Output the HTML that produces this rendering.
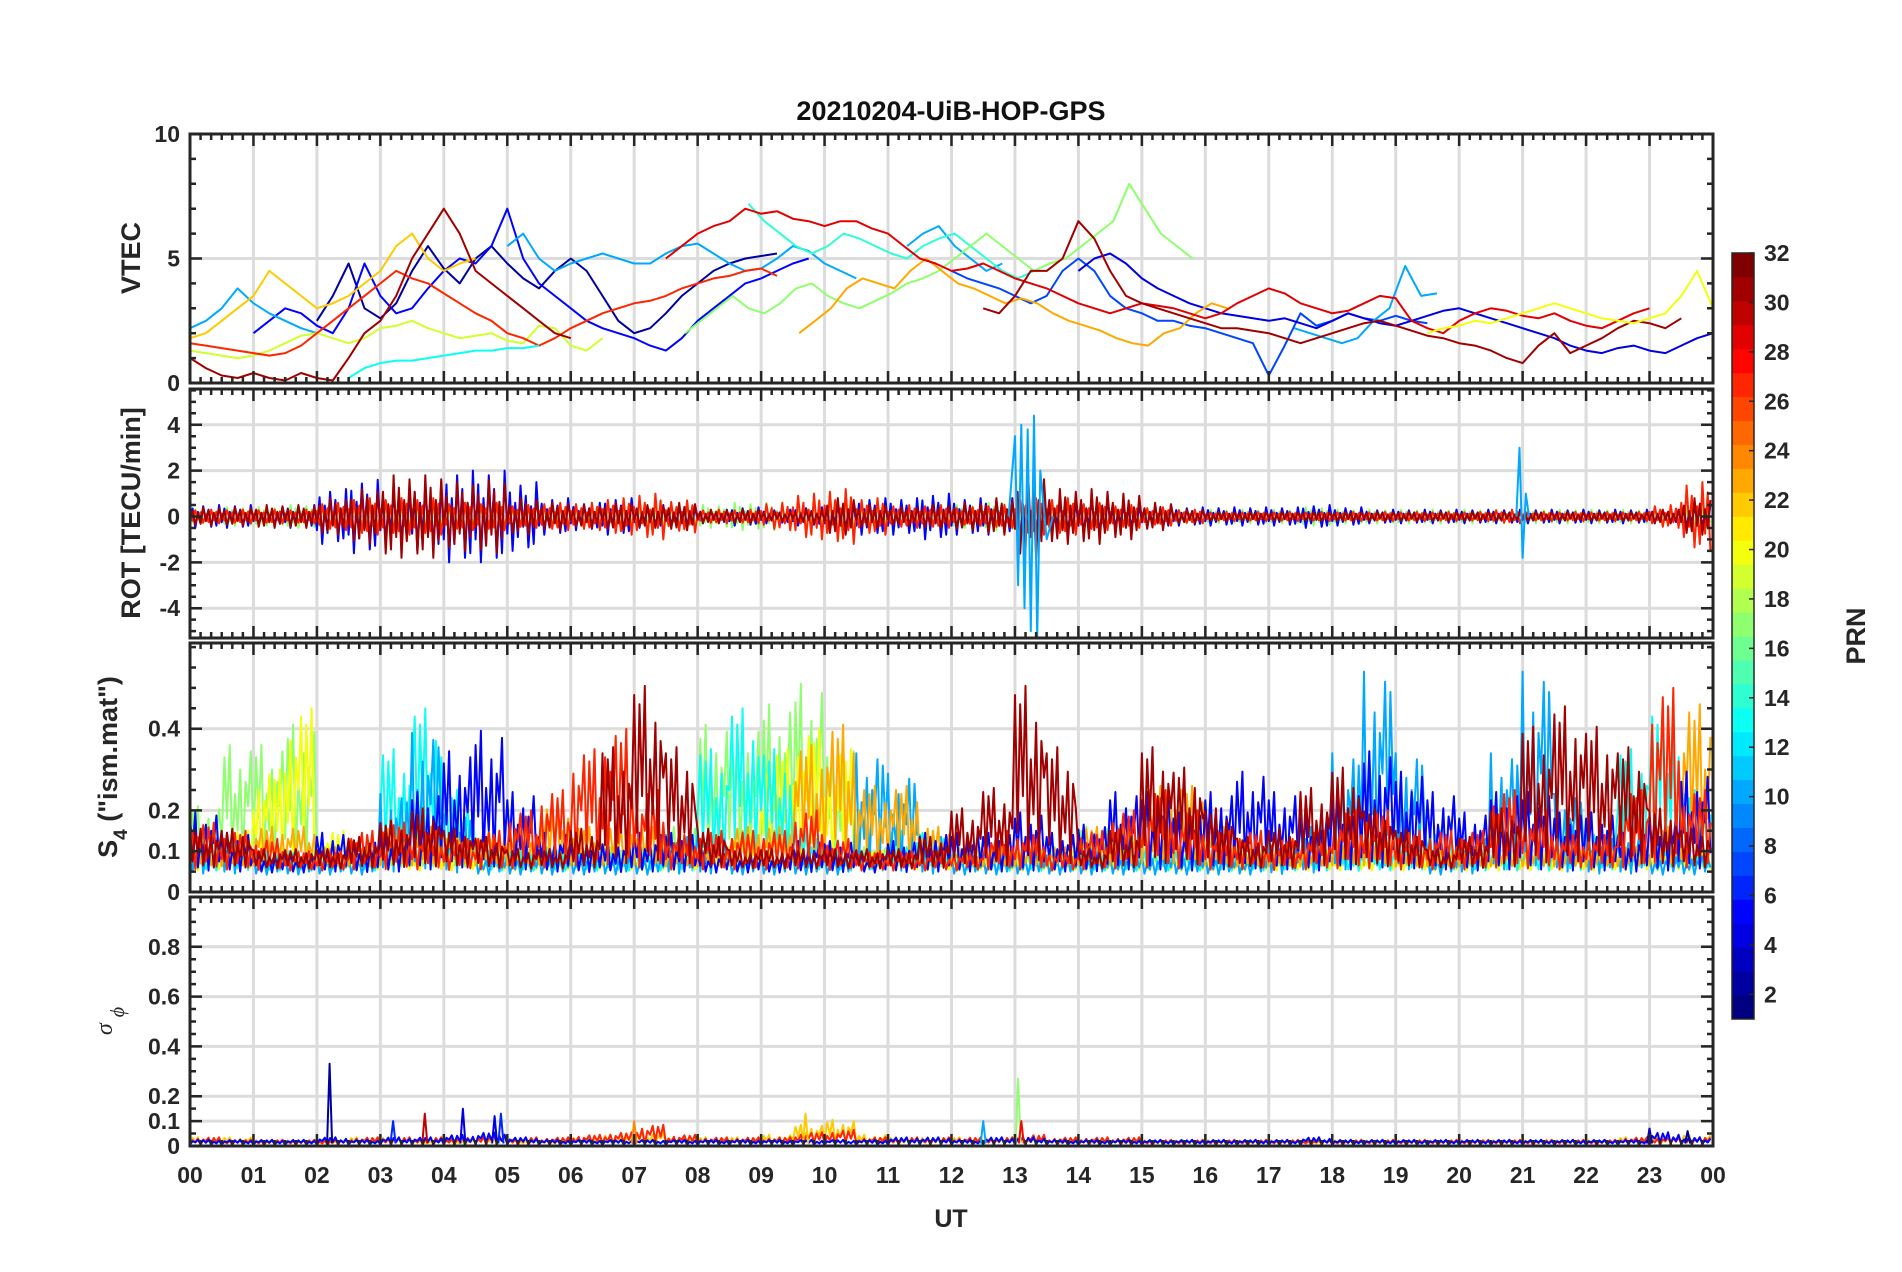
<!DOCTYPE html>
<html><head><meta charset="utf-8"><style>
html,body{margin:0;padding:0;background:#fff;}
svg{display:block;font-family:"Liberation Sans",Arial,sans-serif;}
</style></head><body>
<div style="position:relative;width:1902px;height:1272px;">
<svg id="fig" width="1902" height="1272" viewBox="0 0 1902 1272" xmlns="http://www.w3.org/2000/svg" style="position:absolute;left:0;top:0">
<rect width="1902" height="1272" fill="#fff"/>
<text x="951" y="120" text-anchor="middle" font-size="27" font-weight="bold" fill="#111">20210204-UiB-HOP-GPS</text>
<g id="layer"></g>
<text x="951" y="1227" text-anchor="middle" font-size="25" font-weight="bold" fill="#262626">UT</text>
<text transform="translate(140,258) rotate(-90)" text-anchor="middle" font-size="27" font-weight="bold" fill="#262626">VTEC</text>
<text transform="translate(140,513) rotate(-90)" text-anchor="middle" font-size="27" font-weight="bold" fill="#262626">ROT [TECU/min]</text>
<text transform="translate(117,767) rotate(-90)" text-anchor="middle" font-size="27" font-weight="bold" fill="#262626">S<tspan font-size="19" dy="10">4</tspan><tspan dy="-10"> ("ism.mat")</tspan></text>
<text transform="translate(112,1021) rotate(-90)" text-anchor="middle" font-size="24" font-style="italic" fill="#262626" font-family="Liberation Serif, serif">σ<tspan font-size="20" dy="12" dx="6">ϕ</tspan></text>
<text transform="translate(1865,636) rotate(-90)" text-anchor="middle" font-size="27" font-weight="bold" fill="#262626">PRN</text>
</svg>
</div>
<script>
// ===== DATA =====
const HOUR_LABELS = ["00","01","02","03","04","05","06","07","08","09","10","11","12","13","14","15","16","17","18","19","20","21","22","23","00"];
const CBAR_TICKS = [2,4,6,8,10,12,14,16,18,20,22,24,26,28,30,32];
// VTEC series: prn, start hour, values every 0.25 h
const VTEC_PRN = [2,5,7,4,10,10,10,10,14,17,19,22,23,27,29,31,31,13,20];
const VTEC_START = [2.0,1.0,12.0,14.0,0,5.0,11.3,17.4,8.8,7.8,0,0,9.6,0,7.5,0,12.5,2.5,19.5];
const VTEC_VALUES = [
 [2.5,3.5,4.8,3,2.6,3.2,4.5,5.5,4.6,4,5,5.5,4.8,4.2,3.8,4.5,5,4.5,3.5,2.5,2,2.2,2.8,3.5,4,4.5,4.8,5,5.1,5.2],
 [2,2.5,3,2.8,2.3,2,3,4.8,3.5,2.8,3,3.8,4.5,5,4.8,5.5,7,5,4,3.5,3,2.5,2.2,2,1.8,1.5,1.3,1.8,2.5,3,3.5,4,4.2,4.5,4.8,5],
 [4.5,4.2,4,3.8,3.5,3.2,3.5,4.5,5,4.5,3.5,3,2.8,2.5,2.5,2.3,2.2,2,1.8,1.6,0.3,1.5,2.8,2.3,2.5,2.8,2.6,2.5,2.7,2.5,2.4],
 [4.5,5,5.2,4.8,4.2,3.8,3.5,3.2,3,2.8,2.7,2.6,2.5,2.6,2.4,2.2,2.5,2.8,2.6,2.4,2.3,2.5,2.7,2.9,3,2.8,2.6,2.4,2.2,2.0,1.8,1.5,1.3,1.2,1.4,1.5,1.3,1.2,1.5,1.8,2.0,2.2,2.5,2.3],
 [2.2,2.5,3,3.8,3.2,2.8,2.5,2.2,2],
 [5.5,6,5,4.5,4.8,5,5.2,5,4.8,4.8,5.2,5.5,5.6,5.2,4.8,4.5,4.6,5,5.5,5.3,4.8,4.5,4.2],
 [5.5,6,6.3,5.5,5,4.5,4.8],
 [2.2,2,1.8,1.6,1.8,2.5,3,4.7,3.5,3.6],
 [7.2,6.5,6,5.5,5.2,5.5,6,5.8,5.5,5.2,5,5.5,5.8,6,5.5,5,4.5,4.2,4.5,4.8],
 [2,2.5,3,3.5,3,2.8,3.2,3.8,4,3.5,3.2,3,3.3,3.6,4,4.2,4.5,5,5.5,6,5.5,5,4.5,4.8,5,5.5,6,6.5,8,7,6,5.5,5],
 [1.3,1.2,1.1,1,1.1,1.3,1.6,1.9,2,1.8,1.6,1.8,2.2,2.3,2.5,2.2,2,1.8,1.9,2,1.7,1.6,2.3,2.2,1.5,1.3,1.8],
 [1.8,2,2.5,3,3.5,4.5,4,3.5,3,3.2,3.5,4,4.5,5.5,6,5,4.5,4.8,5],
 [2,2.5,3,3.8,4.2,4,3.8,4.5,5,4.5,4,3.8,3.5,3.2,3.4,3.2,2.8,2.5,2.3,2.1,1.8,1.6,1.5,2,2.2,2.8,3.2,3],
 [1.6,1.5,1.4,1.3,1.2,1.1,1.2,1.5,2,2.5,3,3.5,4,4.5,4.2,4,3.6,3.2,2.8,2.5,2,1.8,1.5,1.8,2.2,2.5,2.8,3,3.2,3.3,3.5,3.8,4,4.2,4.3,4.5,4.6,4.3],
 [5,5.5,6,6.3,6.5,7,6.8,6.9,6.6,6.5,6.3,6.5,6.5,6.2,6,5.5,5,4.8,4.5,4.6,4.8,4.5,4.2,4,3.8,3.5,3.2,3,2.8,3,3.2,3.1,3,2.8,2.6,2.8,3.2,3.5,3.8,3.6,3.2,3,2.8,2.9,3.2,3.5,3.4,2.5,2.2,2,2.5,2.8,3,2.9,2.7,2.6,2.8,2.5,2.3,2.2,2.5,2.8,3],
 [1,0.6,0.3,0.2,0.4,0.2,0.1,0.4,0.2,0.1,1,2,2.5,3.5,5,6,7,6,4.5,4,3.5,3,2.5,2,1.8],
 [3,2.8,3.5,4.5,4.5,5,6.5,5.8,4.5,3.5,3.2,3,2.8,2.6,2.4,2.2,2.2,2.1,2,1.8,1.6,1.8,2,2.2,2.4,2.5,2.3,2.1,1.9,1.8,1.6,1.5,1.3,1,0.8,1.5,2,1.2,1.5,1.8,2.2,2.5,2.4,2.2,2.6],
 [0.2,0.6,0.8,0.9,0.9,1,1.1,1.2,1.3,1.3,1.4,1.4,1.5],
 [2,2.2,2.3,2.5,2.4,2.6,2.8,3,3.2,3,2.8,2.6,2.5,2.4,2.6,2.8,3.5,4.5,3]
];
// ROT amplitude per 0.5 h
const ROT_PRN = [17,5,27,31];
const ROT_AMP = [
 [0.3,0.4,0.4,0.5,0.5,0.4,0.4,0.3,0.3,0.4,0.4,0.3,0.3,0.3,0.3,0.5,0.5,0.6,0.6,0.6,0.7,0.5,0.4,0.4,0.5,0.6,0.6,0.5,0.4,0.3,0.3,0.3,0.3,0.3,0.3,0.4,0.3,0.3,0.3,0.3,0.3,0.3,0.3,0.3,0.3,0.3,0.3,0.3],
 [0.5,0.5,0.4,0.5,1.2,1.6,1.2,1.5,2.0,2.0,1.5,0.8,0.6,0.8,0.5,0.4,0.3,0.4,0.3,0.4,0.6,0.8,0.8,1.0,0.8,0.8,1.0,0.7,0.8,0.5,0.5,0.4,0.4,0.4,0.4,0.5,0.4,0.3,0.3,0.3,0.3,0.3,0.3,0.3,0.3,0.3,0.3,0.5],
 [0.3,0.3,0.3,0.3,0.6,0.8,0.8,0.8,0.6,0.6,0.5,0.6,0.6,0.8,1.0,0.7,0.3,0.3,0.6,1.0,1.2,0.8,0.5,0.5,0.4,0.5,0.8,0.8,0.6,0.5,0.4,0.3,0.2,0.2,0.2,0.2,0.2,0.2,0.2,0.2,0.2,0.3,0.2,0.2,0.2,0.2,0.5,1.5],
 [0.4,0.4,0.5,0.5,0.8,1.2,1.8,1.8,1.5,1.6,0.8,0.6,0.5,0.6,0.5,0.6,0.3,0.3,0.2,0.3,0.8,0.5,0.4,0.5,0.6,0.8,1.8,1.2,1.2,1.0,0.6,0.3,0.2,0.2,0.2,0.2,0.2,0.2,0.2,0.2,0.2,0.2,0.2,0.2,0.2,0.2,0.3,0.8]
];
const ROT_SPIKE_PRN = [10,10];
const ROT_SPIKE_T = [[12.9,13.0,13.05,13.1,13.15,13.2,13.25,13.3,13.35,13.4,13.5,13.6],[20.9,20.95,21.0,21.05,21.1]];
const ROT_SPIKE_V = [[0,3.5,-3,4,-4,3.8,-5,4.4,-5.3,2,-1,0],[0,3,-1.8,1,0]];
// S4: base level and peak amplitude per 0.5 h
const S4_PRN = [17,20,13,10,23,5,27,31];
const S4_BASE = [0.06,0.05,0.05,0.04,0.06,0.045,0.05,0.055];
const S4_PEAK = [
 [0.15,0.3,0.3,0.35,0.05,0.05,0.05,0.05,0.05,0.05,0.05,0.05,0.05,0.05,0.05,0.1,0.35,0.35,0.4,0.45,0.3,0.05,0.05,0.05,0.05,0.05,0.05,0.05,0.1,0.1,0.05,0.05,0.05,0.05,0.05,0.05,0.05,0.08,0.05,0.05,0.05,0.05,0.05,0.05,0.05,0.05,0.05,0.05],
 [0.05,0.1,0.25,0.4,0.1,0.05,0.05,0.05,0.05,0.05,0.05,0.05,0.05,0.05,0.05,0.05,0.05,0.1,0.3,0.35,0.3,0.05,0.05,0.05,0.05,0.05,0.05,0.05,0.05,0.05,0.05,0.05,0.05,0.05,0.05,0.05,0.05,0.05,0.05,0.05,0.05,0.05,0.05,0.05,0.05,0.05,0.05,0.05],
 [0.05,0.08,0.05,0.05,0.05,0.05,0.3,0.4,0.2,0.05,0.05,0.05,0.05,0.05,0.05,0.05,0.3,0.4,0.3,0.1,0.05,0.05,0.1,0.1,0.05,0.05,0.05,0.05,0.05,0.05,0.05,0.05,0.05,0.05,0.05,0.05,0.05,0.05,0.1,0.1,0.05,0.05,0.05,0.08,0.1,0.3,0.4,0.2],
 [0.1,0.1,0.05,0.05,0.05,0.05,0.2,0.35,0.15,0.05,0.05,0.05,0.05,0.05,0.05,0.1,0.1,0.05,0.05,0.05,0.05,0.3,0.25,0.1,0.05,0.05,0.05,0.05,0.05,0.05,0.05,0.05,0.05,0.05,0.08,0.15,0.3,0.5,0.3,0.05,0.1,0.3,0.5,0.2,0.1,0.1,0.05,0.05],
 [0.05,0.05,0.1,0.1,0.05,0.05,0.1,0.1,0.1,0.1,0.1,0.15,0.1,0.1,0.1,0.05,0.05,0.1,0.1,0.3,0.35,0.2,0.2,0.1,0.05,0.05,0.05,0.05,0.1,0.1,0.2,0.2,0.1,0.05,0.05,0.05,0.1,0.1,0.05,0.05,0.05,0.05,0.05,0.05,0.05,0.05,0.1,0.4],
 [0.15,0.1,0.05,0.05,0.1,0.08,0.1,0.2,0.3,0.35,0.2,0.1,0.08,0.08,0.1,0.1,0.05,0.05,0.05,0.08,0.08,0.05,0.08,0.1,0.1,0.1,0.15,0.1,0.12,0.2,0.2,0.15,0.2,0.25,0.2,0.15,0.2,0.3,0.25,0.2,0.15,0.2,0.2,0.15,0.15,0.1,0.15,0.25],
 [0.12,0.1,0.08,0.05,0.05,0.1,0.12,0.1,0.08,0.1,0.15,0.2,0.3,0.35,0.2,0.1,0.1,0.1,0.1,0.15,0.08,0.05,0.05,0.05,0.05,0.1,0.1,0.05,0.1,0.15,0.2,0.15,0.1,0.1,0.08,0.1,0.15,0.15,0.1,0.1,0.1,0.2,0.15,0.1,0.1,0.2,0.45,0.2],
 [0.1,0.1,0.05,0.05,0.05,0.08,0.12,0.15,0.1,0.08,0.05,0.05,0.1,0.3,0.45,0.3,0.1,0.05,0.05,0.05,0.05,0.05,0.05,0.08,0.15,0.2,0.45,0.3,0.05,0.1,0.3,0.25,0.15,0.08,0.1,0.2,0.25,0.15,0.1,0.05,0.08,0.15,0.35,0.4,0.35,0.3,0.15,0.1]
];
// sigma-phi baseline amplitude per 0.5 h and spikes
const SIG_PRN = [22,27,5];
const SIG_AMP = [
 [0.03,0.03,0.02,0.02,0.02,0.03,0.03,0.02,0.02,0.03,0.02,0.02,0.03,0.04,0.05,0.03,0.03,0.03,0.04,0.08,0.1,0.04,0.03,0.03,0.03,0.03,0.03,0.02,0.02,0.02,0.02,0.02,0.02,0.02,0.02,0.02,0.02,0.02,0.02,0.02,0.02,0.02,0.02,0.02,0.02,0.03,0.04,0.04],
 [0.03,0.02,0.02,0.02,0.02,0.03,0.03,0.03,0.03,0.04,0.03,0.03,0.04,0.05,0.08,0.04,0.03,0.03,0.03,0.05,0.06,0.03,0.03,0.03,0.03,0.03,0.04,0.03,0.03,0.03,0.02,0.02,0.02,0.02,0.02,0.02,0.02,0.02,0.02,0.02,0.02,0.02,0.02,0.02,0.02,0.03,0.03,0.03],
 [0.02,0.02,0.02,0.02,0.03,0.02,0.03,0.03,0.04,0.05,0.03,0.02,0.02,0.02,0.02,0.02,0.02,0.02,0.02,0.02,0.02,0.02,0.03,0.03,0.02,0.03,0.03,0.02,0.02,0.02,0.02,0.02,0.02,0.02,0.02,0.03,0.02,0.02,0.02,0.02,0.02,0.02,0.02,0.02,0.02,0.02,0.05,0.03]
];
const SIG_SPIKE_T = [2.2,3.2,3.7,4.3,4.8,4.9,7.0,9.7,12.5,13.05,13.1,23.0,23.6];
const SIG_SPIKE_V = [0.33,0.1,0.13,0.15,0.12,0.13,0.1,0.13,0.1,0.27,0.1,0.07,0.06];
const SIG_SPIKE_PRN = [2,6,30,4,4,6,24,22,10,17,28,3,2];

// ===== LAYOUT =====
const X0=190, X1=1713;
const PANELS=[
 {top:134,bot:383,min:0,max:10,major:[0,5,10],grid:[5],minor:1,labels:["0","5","10"]},
 {top:389,bot:638,min:-5.3,max:5.56,major:[-4,-2,0,2,4],grid:[-4,-2,0,2,4],minor:0.5,labels:["-4","-2","0","2","4"]},
 {top:643,bot:892,min:0,max:0.61,major:[0,0.1,0.2,0.4],grid:[0.1,0.2,0.4],minor:0.05,labels:["0","0.1","0.2","0.4"]},
 {top:897,bot:1146,min:0,max:1,major:[0,0.1,0.2,0.4,0.6,0.8],grid:[0.1,0.2,0.4,0.6,0.8],minor:0.05,labels:["0","0.1","0.2","0.4","0.6","0.8"]}
];
const NS="http://www.w3.org/2000/svg";
const layer=document.getElementById('layer');
function mk(tag,attrs,parent){const e=document.createElementNS(NS,tag);for(const k in attrs)e.setAttribute(k,attrs[k]);(parent||layer).appendChild(e);return e;}
function xs(h){return X0+(X1-X0)*h/24;}
function ys(p,v){return p.bot-(p.bot-p.top)*(v-p.min)/(p.max-p.min);}
function jet(prn){const t=(prn-1)/31;const c=x=>Math.round(255*Math.max(0,Math.min(1,x)));
 return `rgb(${c(1.5-Math.abs(4*t-3))},${c(1.5-Math.abs(4*t-2))},${c(1.5-Math.abs(4*t-1))})`;}
const ZIG=[0.3,-0.8,1,-0.5,0.7,-1,0.4,-0.6,0.9,-0.3,0.6,-0.9];
const ZIGP=[0.2,0.9,0.4,1,0.1,0.6,0.3,0.8,0.05,0.7,0.5,0.95];

const defs=mk('defs',{});
PANELS.forEach((p,i)=>{const c=mk('clipPath',{id:'clip'+i},defs);mk('rect',{x:X0,y:p.top,width:X1-X0,height:p.bot-p.top},c);});

PANELS.forEach((p,i)=>{
 const g=mk('g',{});
 
 
 for(let h=1;h<24;h++) mk('line',{x1:xs(h),x2:xs(h),y1:p.top,y2:p.bot,stroke:'#dcdcdc','stroke-width':3},g);
 p.grid.forEach(v=>mk('line',{x1:X0,x2:X1,y1:ys(p,v),y2:ys(p,v),stroke:'#dcdcdc','stroke-width':3},g));
});

function poly(pts,color,panelIdx,name,w){
 const e=mk('polyline',{points:pts.map(q=>q[0].toFixed(1)+','+q[1].toFixed(1)).join(' '),fill:'none',stroke:color,'stroke-width':w||2,'stroke-linejoin':'round','clip-path':`url(#clip${panelIdx})`});
 
 
 return e;
}
VTEC_VALUES.forEach((vals,i)=>{
 const p=PANELS[0];
 const pts=vals.map((v,k)=>[xs(VTEC_START[i]+k*0.25),ys(p,v)]);
 poly(pts,jet(VTEC_PRN[i]),0,'vtec-line-prn'+VTEC_PRN[i]);
});
ROT_AMP.forEach((amps,i)=>{
 const p=PANELS[1];const pts=[];
 amps.forEach((a,k)=>{for(let j=0;j<12;j++){pts.push([xs(k*0.5+j*0.5/12),ys(p,a*ZIG[(j+i*3)%12])]);}});
 poly(pts,jet(ROT_PRN[i]),1,'rot-line-prn'+ROT_PRN[i]);
});
ROT_SPIKE_T.forEach((ts,i)=>{
 const p=PANELS[1];
 poly(ts.map((t,k)=>[xs(t),ys(p,ROT_SPIKE_V[i][k])]),jet(ROT_SPIKE_PRN[i]),1,'rot-spike-prn'+ROT_SPIKE_PRN[i]);
});
S4_PEAK.forEach((peaks,i)=>{
 const p=PANELS[2];const pts=[];
 peaks.forEach((a,k)=>{for(let j=0;j<12;j++){pts.push([xs(k*0.5+j*0.5/12),ys(p,S4_BASE[i]+a*ZIGP[(j+i*5)%12])]);}});
 poly(pts,jet(S4_PRN[i]),2,'s4-line-prn'+S4_PRN[i]);
});
SIG_AMP.forEach((amps,i)=>{
 const p=PANELS[3];const pts=[];
 amps.forEach((a,k)=>{for(let j=0;j<12;j++){pts.push([xs(k*0.5+j*0.5/12),ys(p,0.005+a*ZIGP[(j+i*4)%12])]);}});
 poly(pts,jet(SIG_PRN[i]),3,'sigma-phi-line-prn'+SIG_PRN[i]);
});
SIG_SPIKE_T.forEach((t,i)=>{
 const p=PANELS[3];
 poly([[xs(t-0.04),ys(p,0.01)],[xs(t),ys(p,SIG_SPIKE_V[i])],[xs(t+0.04),ys(p,0.01)]],jet(SIG_SPIKE_PRN[i]),3,'sigma-phi-spike-prn'+SIG_SPIKE_PRN[i]);
});

PANELS.forEach((p,i)=>{
 const g=mk('g',{});
 
 
 let d='';
 for(let m=0;m<=144;m++){const x=xs(m/6);const L=(m%6===0)?12:6;d+=`M${x},${p.bot}v${-L}M${x},${p.top}v${L}`;}
 const start=Math.ceil(p.min/p.minor)*p.minor;
 for(let v=start;v<=p.max+1e-9;v+=p.minor){const y=ys(p,v);const isMaj=p.major.some(q=>Math.abs(q-v)<1e-6);const L=isMaj?12:6;d+=`M${X0},${y}h${L}M${X1},${y}h${-L}`;}
 mk('path',{d:d,stroke:'#262626','stroke-width':2.5,fill:'none'},g);
 mk('rect',{x:X0,y:p.top,width:X1-X0,height:p.bot-p.top,fill:'none',stroke:'#262626','stroke-width':3},g);
 p.major.forEach((v,k)=>{
  const t=mk('text',{x:X0-10,y:ys(p,v)+8,'text-anchor':'end','font-size':23,'font-weight':'bold',fill:'#262626'},g);
  t.textContent=p.labels[k];
  
  
 });
});
HOUR_LABELS.forEach((s,h)=>{
 const t=mk('text',{x:xs(h),y:1183,'text-anchor':'middle','font-size':23,'font-weight':'bold',fill:'#262626'});
 t.textContent=s;
 
 
});
const CB={x:1732,w:22,top:253,bot:1019,min:1,max:32};
const cbg=mk('g',{});


for(let k=1;k<=32;k++){
 const hgt=(CB.bot-CB.top)/32;
 mk('rect',{x:CB.x,y:CB.bot-hgt*k,width:CB.w,height:hgt+0.5,fill:jet(k)},cbg);
}
mk('rect',{x:CB.x,y:CB.top,width:CB.w,height:CB.bot-CB.top,fill:'none',stroke:'#262626','stroke-width':1.5},cbg);
CBAR_TICKS.forEach(v=>{
 const y=CB.bot-(CB.bot-CB.top)*(v-CB.min)/(CB.max-CB.min);
 mk('line',{x1:CB.x+CB.w-5,x2:CB.x+CB.w,y1:y,y2:y,stroke:'#262626','stroke-width':1.5},cbg);
 const t=mk('text',{x:CB.x+CB.w+10,y:y+8,'font-size':23,'font-weight':'bold',fill:'#262626'},cbg);
 t.textContent=v;
 
 
});
</script>
</body></html>
